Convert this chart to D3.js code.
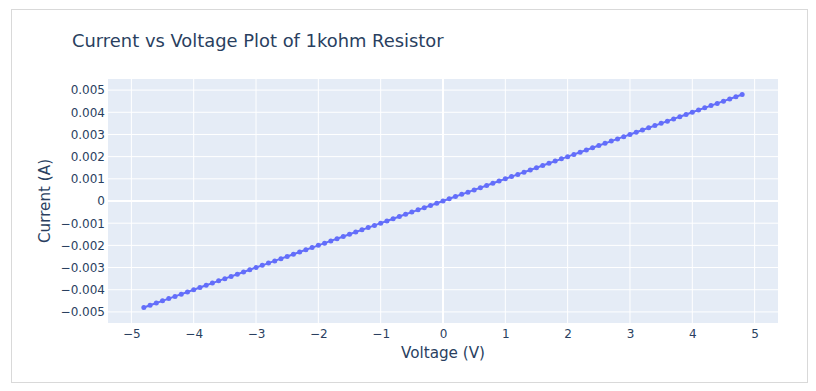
<!DOCTYPE html>
<html>
<head>
<meta charset="utf-8">
<script src="https://cdn.jsdelivr.net/npm/d3@7"></script>
<style>
  body { margin: 0; background: #fff; }
  svg { display: block; font-family: "DejaVu Sans", sans-serif; }
</style>
</head>
<body>
<svg id="chart" width="816" height="391"></svg>
<script>
// measured sweep, 0.1 V steps
const voltage = [
  -4.8, -4.7, -4.6, -4.5, -4.4, -4.3, -4.2, -4.1, -4.0, -3.9, -3.8, -3.7, -3.6, -3.5, -3.4, -3.3,
  -3.2, -3.1, -3.0, -2.9, -2.8, -2.7, -2.6, -2.5, -2.4, -2.3, -2.2, -2.1, -2.0, -1.9, -1.8, -1.7,
  -1.6, -1.5, -1.4, -1.3, -1.2, -1.1, -1.0, -0.9, -0.8, -0.7, -0.6, -0.5, -0.4, -0.3, -0.2, -0.1,
  0.0, 0.1, 0.2, 0.3, 0.4, 0.5, 0.6, 0.7, 0.8, 0.9, 1.0, 1.1, 1.2, 1.3, 1.4, 1.5, 1.6,
  1.7, 1.8, 1.9, 2.0, 2.1, 2.2, 2.3, 2.4, 2.5, 2.6, 2.7, 2.8, 2.9, 3.0, 3.1, 3.2,
  3.3, 3.4, 3.5, 3.6, 3.7, 3.8, 3.9, 4.0, 4.1, 4.2, 4.3, 4.4, 4.5, 4.6, 4.7, 4.8
];
const current = [
  -0.0048, -0.0047, -0.0046, -0.0045, -0.0044, -0.0043, -0.0042, -0.0041, -0.0040, -0.0039, -0.0038, -0.0037, -0.0036, -0.0035, -0.0034, -0.0033,
  -0.0032, -0.0031, -0.0030, -0.0029, -0.0028, -0.0027, -0.0026, -0.0025, -0.0024, -0.0023, -0.0022, -0.0021, -0.0020, -0.0019, -0.0018, -0.0017,
  -0.0016, -0.0015, -0.0014, -0.0013, -0.0012, -0.0011, -0.0010, -0.0009, -0.0008, -0.0007, -0.0006, -0.0005, -0.0004, -0.0003, -0.0002, -0.0001,
  0.0, 0.0001, 0.0002, 0.0003, 0.0004, 0.0005, 0.0006, 0.0007, 0.0008, 0.0009, 0.0010, 0.0011, 0.0012, 0.0013, 0.0014, 0.0015, 0.0016,
  0.0017, 0.0018, 0.0019, 0.0020, 0.0021, 0.0022, 0.0023, 0.0024, 0.0025, 0.0026, 0.0027, 0.0028, 0.0029, 0.0030, 0.0031, 0.0032,
  0.0033, 0.0034, 0.0035, 0.0036, 0.0037, 0.0038, 0.0039, 0.0040, 0.0041, 0.0042, 0.0043, 0.0044, 0.0045, 0.0046, 0.0047, 0.0048
];
const xTicks = [-5, -4, -3, -2, -1, 0, 1, 2, 3, 4, 5];
const yTicks = [-0.005, -0.004, -0.003, -0.002, -0.001, 0, 0.001, 0.002, 0.003, 0.004, 0.005];

const title = "Current vs Voltage Plot of 1kohm Resistor";
const xTitle = "Voltage (V)";
const yTitle = "Current (A)";

const data = voltage.map((v, i) => ({ v, c: current[i] }));

const svg = d3.select("#chart");
const plot = { left: 108, top: 79, right: 778, bottom: 323 };
const textColor = "#2a3f5f";

// figure frame
svg.append("rect")
  .attr("x", 11.5).attr("y", 9.5)
  .attr("width", 796).attr("height", 373)
  .attr("fill", "#fff")
  .attr("stroke", "#d9d9d9");

const x = d3.scaleLinear([-5.375, 5.375], [plot.left, plot.right]);
const y = d3.scaleLinear([-0.0055, 0.0055], [plot.bottom, plot.top]);

svg.append("rect")
  .attr("x", plot.left).attr("y", plot.top)
  .attr("width", plot.right - plot.left)
  .attr("height", plot.bottom - plot.top)
  .attr("fill", "#e5ecf6");

// grid
svg.append("g").selectAll("line")
  .data(xTicks)
  .join("line")
  .attr("x1", d => x(d)).attr("x2", d => x(d))
  .attr("y1", plot.top).attr("y2", plot.bottom)
  .attr("stroke", "#fff")
  .attr("stroke-width", d => d === 0 ? 2 : 1);

svg.append("g").selectAll("line")
  .data(yTicks)
  .join("line")
  .attr("y1", d => y(d)).attr("y2", d => y(d))
  .attr("x1", plot.left).attr("x2", plot.right)
  .attr("stroke", "#fff")
  .attr("stroke-width", d => d === 0 ? 2 : 1);

// axes
const fmtMinus = s => s.replace("-", "\u2212");
const xAxis = svg.append("g")
  .attr("transform", `translate(0,${plot.bottom})`)
  .call(d3.axisBottom(x).tickValues(xTicks).tickSize(0).tickPadding(6)
    .tickFormat(d => fmtMinus(d3.format("d")(d))));
const yAxis = svg.append("g")
  .attr("transform", `translate(${plot.left},0)`)
  .call(d3.axisLeft(y).tickValues(yTicks).tickSize(0).tickPadding(3)
    .tickFormat(d => d === 0 ? "0" : fmtMinus(d3.format(".3f")(d))));

for (const ax of [xAxis, yAxis]) {
  ax.select(".domain").remove();
  ax.selectAll("text")
    .attr("fill", textColor)
    .attr("font-size", 12)
    .attr("font-family", "'DejaVu Sans', sans-serif");
}

// trace
svg.append("path")
  .datum(data)
  .attr("fill", "none")
  .attr("stroke", "#636efa")
  .attr("stroke-width", 2)
  .attr("d", d3.line().x(d => x(d.v)).y(d => y(d.c)));

svg.append("g").selectAll("circle")
  .data(data)
  .join("circle")
  .attr("cx", d => x(d.v))
  .attr("cy", d => y(d.c))
  .attr("r", 2.5)
  .attr("fill", "#636efa");

// titles
svg.append("text")
  .attr("x", 72).attr("y", 47)
  .attr("fill", textColor)
  .attr("font-size", 17.9)
  .text(title);

svg.append("text")
  .attr("x", (plot.left + plot.right) / 2).attr("y", 358)
  .attr("text-anchor", "middle")
  .attr("fill", textColor)
  .attr("font-size", 15.2)
  .text(xTitle);

svg.append("text")
  .attr("transform", `translate(50,${(plot.top + plot.bottom) / 2}) rotate(-90)`)
  .attr("text-anchor", "middle")
  .attr("fill", textColor)
  .attr("font-size", 15.2)
  .text(yTitle);
</script>
</body>
</html>
